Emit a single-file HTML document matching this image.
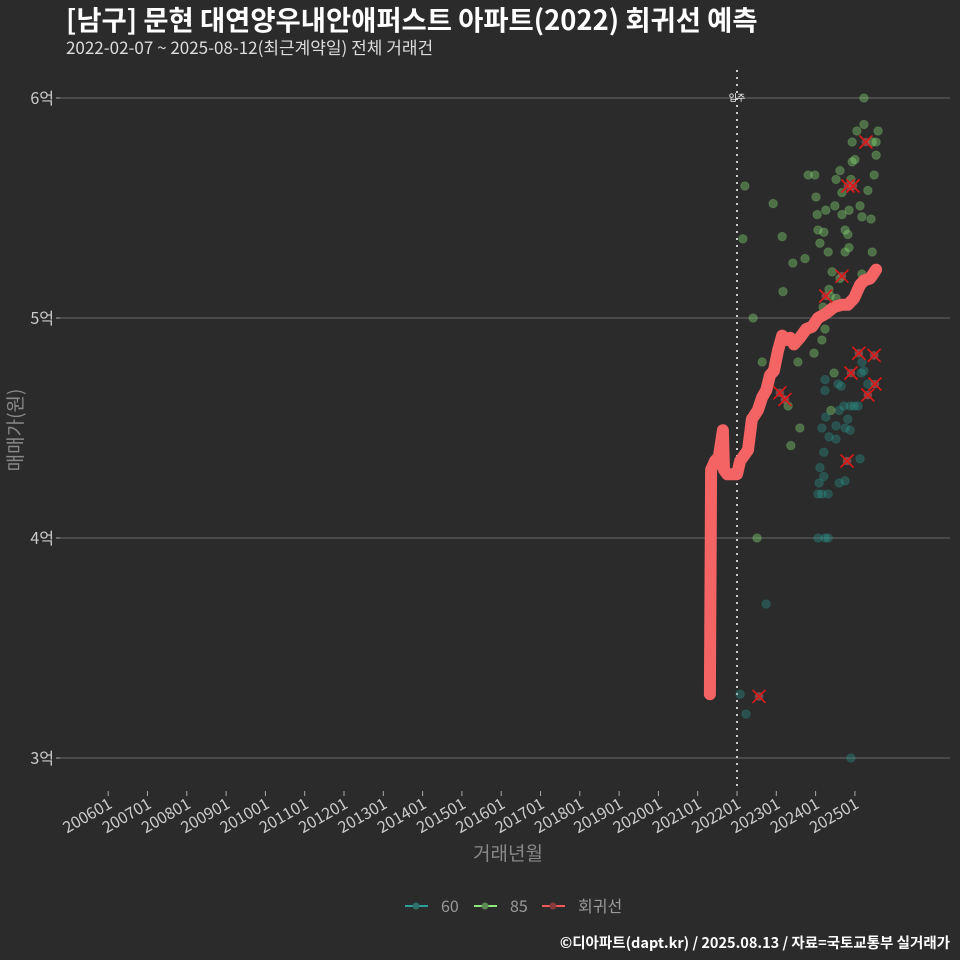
<!DOCTYPE html>
<html><head><meta charset="utf-8">
<style>
html,body{margin:0;padding:0;background:#2b2b2b;}
svg{display:block;font-family:"Noto Sans CJK KR","Liberation Sans",sans-serif;}
</style></head>
<body>
<svg id="chart" width="960" height="960" viewBox="0 0 960 960" xmlns="http://www.w3.org/2000/svg">
<rect width="960" height="960" fill="#2b2b2b"/>
<text x="66" y="30" fill="#ffffff" font-size="27.4" font-weight="bold">[남구] 문현 대연양우내안애퍼스트 아파트(2022) 회귀선 예측</text>
<text x="66" y="54" fill="#dddddd" font-size="17">2022-02-07 ~ 2025-08-12(최근계약일) 전체 거래건</text>
<g id="grid"></g>
<g id="marks"></g>
<text transform="translate(22,430) rotate(-90)" text-anchor="middle" fill="#888" font-size="19">매매가(원)</text>
<text x="508" y="860" text-anchor="middle" fill="#888" font-size="19">거래년월</text>
<g>
  <g>
    <line x1="405" y1="906" x2="428" y2="906" stroke="#2aa198" stroke-width="2"/><circle cx="416" cy="906" r="3.5" fill="#2f6f6a"/>
    <text x="441" y="912" fill="#999" font-size="16">60</text></g>
  <g>
    <line x1="474" y1="906" x2="497" y2="906" stroke="#8ee87a" stroke-width="2"/><circle cx="485" cy="906" r="3.5" fill="#5d8a55"/>
    <text x="510" y="912" fill="#999" font-size="16">85</text></g>
  <g>
    <line x1="542" y1="906" x2="565" y2="906" stroke="#f05a5a" stroke-width="2"/><circle cx="553" cy="906" r="3.5" fill="#8a3a3a"/>
    <text x="578" y="912" fill="#999" font-size="16">회귀선</text></g>
</g>
<text x="950" y="948" text-anchor="end" fill="#ffffff" font-size="14.5" font-weight="bold">©디아파트(dapt.kr) / 2025.08.13 / 자료=국토교통부 실거래가</text>
</svg>
<script>
const yTicks=[3,4,5,6];
const yTickLabels=["3억","4억","5억","6억"];
const xTickYears=[2006,2007,2008,2009,2010,2011,2012,2013,2014,2015,2016,2017,2018,2019,2020,2021,2022,2023,2024,2025];
const xTickLabels=["200601","200701","200801","200901","201001","201101","201201","201301","201401","201501","201601","201701","201801","201901","202001","202101","202201","202301","202401","202501"];
const moveInYear=2022.0;
const g85T=[2022.20,2022.15,2022.41,2022.92,2023.17,2023.42,2023.15,2023.73,2023.81,2023.98,2024.01,2024.04,2024.06,2024.11,2024.21,2024.26,2024.34,2024.32,2024.49,2024.52,2024.62,2024.67,2024.67,2024.75,2024.75,2024.85,2024.93,2024.82,2024.85,2024.90,2024.93,2025.00,2025.05,2025.13,2025.18,2025.23,2025.23,2025.33,2025.44,2025.54,2025.41,2025.44,2025.49,2025.54,2025.59,2024.42,2024.37,2024.19,2024.24,2024.16,2024.52,2024.47,2024.39,2024.62,2025.18,2023.96,2023.55,2022.51,2023.37,2023.30,2023.60,2022.64];
const g85V=[5.60,5.36,5.00,5.52,5.12,5.25,5.37,5.27,5.65,5.65,5.55,5.47,5.40,5.34,5.39,5.49,5.13,5.30,5.51,5.63,5.67,5.47,5.57,5.40,5.30,5.32,5.71,5.38,5.49,5.63,5.80,5.72,5.85,5.51,5.46,5.88,6.00,5.58,5.80,5.80,5.45,5.30,5.65,5.74,5.85,5.21,5.10,5.05,4.95,4.90,5.09,4.75,4.58,5.18,5.20,4.84,4.80,4.00,4.42,4.60,4.50,4.80];
const g60T=[2022.08,2022.23,2022.74,2024.24,2024.06,2024.32,2024.06,2024.16,2024.32,2024.09,2024.21,2024.60,2024.21,2024.34,2024.52,2024.60,2024.72,2024.88,2024.98,2025.08,2024.75,2024.82,2024.88,2024.75,2025.13,2024.24,2024.24,2024.57,2024.65,2025.18,2025.16,2025.23,2025.33,2024.90,2024.26,2024.16,2024.11,2024.52];
const g60V=[3.29,3.20,3.70,4.00,4.00,4.00,4.20,4.20,4.20,4.25,4.28,4.25,4.39,4.46,4.45,4.58,4.60,4.60,4.60,4.60,4.50,4.54,4.49,4.26,4.36,4.72,4.67,4.70,4.69,4.80,4.75,4.76,4.70,3.00,4.55,4.50,4.32,4.51];
const regT=[2021.31,2021.34,2021.44,2021.54,2021.64,2021.67,2021.75,2022.00,2022.08,2022.28,2022.38,2022.53,2022.64,2022.74,2022.84,2022.94,2023.04,2023.15,2023.25,2023.35,2023.45,2023.60,2023.76,2023.91,2024.06,2024.26,2024.47,2024.67,2024.82,2024.98,2025.13,2025.23,2025.39,2025.54];
const regV=[3.29,4.31,4.35,4.37,4.49,4.31,4.29,4.29,4.35,4.40,4.54,4.58,4.64,4.67,4.74,4.76,4.85,4.92,4.90,4.91,4.88,4.91,4.95,4.96,5.00,5.02,5.05,5.06,5.06,5.09,5.15,5.17,5.18,5.22];
const outT=[2022.56,2023.09,2023.22,2024.26,2024.67,2024.82,2024.95,2025.28,2025.10,2025.49,2024.90,2024.80,2025.33,2025.51];
const outV=[3.28,4.66,4.63,5.10,5.19,5.60,5.60,5.80,4.84,4.83,4.75,4.35,4.65,4.70];

const NS="http://www.w3.org/2000/svg";
function xs(t){return 737+(t-2022)*39.3;}
function ys(v){return 758-(v-3)*220;}
function mk(tag,attrs,parent){const e=document.createElementNS(NS,tag);for(const k in attrs)e.setAttribute(k,attrs[k]);parent.appendChild(e);return e;}
const grid=document.getElementById('grid');
const marks=document.getElementById('marks');
yTicks.forEach((v,i)=>{
  const l=mk('line',{x1:60,x2:950,y1:ys(v),y2:ys(v),stroke:'#6a6a6a','stroke-width':1},grid);
  
  
  const tk=mk('line',{x1:56,x2:60,y1:ys(v),y2:ys(v),stroke:'#aaa'},grid);
  
  
  const t=mk('text',{x:54,y:ys(v)+6,'text-anchor':'end',fill:'#cccccc','font-size':16},grid);
  t.textContent=yTickLabels[i];
  
  
});
xTickYears.forEach((yr,i)=>{
  const x=xs(yr);
  const tk=mk('line',{x1:x,x2:x,y1:791,y2:796,stroke:'#aaa'},grid);
  
  
  const t=mk('text',{x:0,y:0,'text-anchor':'end',fill:'#cccccc','font-size':16,transform:`translate(${x+5},${807}) rotate(-30)`},grid);
  t.textContent=xTickLabels[i];
  
  
});
const vl=mk('line',{x1:xs(moveInYear),x2:xs(moveInYear),y1:70,y2:790,stroke:'#cccccc','stroke-width':2,'stroke-dasharray':'2,5'},marks);


const vt=mk('text',{x:xs(moveInYear),y:101,'text-anchor':'middle',fill:'#fff','font-size':9},marks);
vt.textContent='입주';


g60T.forEach((t,i)=>{
  const c=mk('circle',{cx:xs(t),cy:ys(g60V[i]),r:4.3,fill:'#2aa198','fill-opacity':0.33,stroke:'#2aa198','stroke-opacity':0.2},marks);
  
  
});
g85T.forEach((t,i)=>{
  const c=mk('circle',{cx:xs(t),cy:ys(g85V[i]),r:4.3,fill:'#8ee87a','fill-opacity':0.36,stroke:'#8ee87a','stroke-opacity':0.2},marks);
  
  
});
const d=regT.map((t,i)=>(i?'L':'M')+xs(t).toFixed(1)+','+ys(regV[i]).toFixed(1)).join(' ');
const p=mk('path',{d:d,fill:'none',stroke:'#f46464','stroke-width':12,'stroke-linejoin':'round','stroke-linecap':'round'},marks);


outT.forEach((t,i)=>{
  const x=xs(t),y=ys(outV[i]);
  const g=mk('g',{},marks);
  
  
  mk('circle',{cx:x,cy:y,r:4.3,fill:'#a86060','fill-opacity':0.6},g);
  mk('path',{d:`M${x-6.5},${y-6.5}L${x+6.5},${y+6.5}M${x-6.5},${y+6.5}L${x+6.5},${y-6.5}`,stroke:'#e01818','stroke-width':1.6,fill:'none'},g);
});
</script>
</body></html>
